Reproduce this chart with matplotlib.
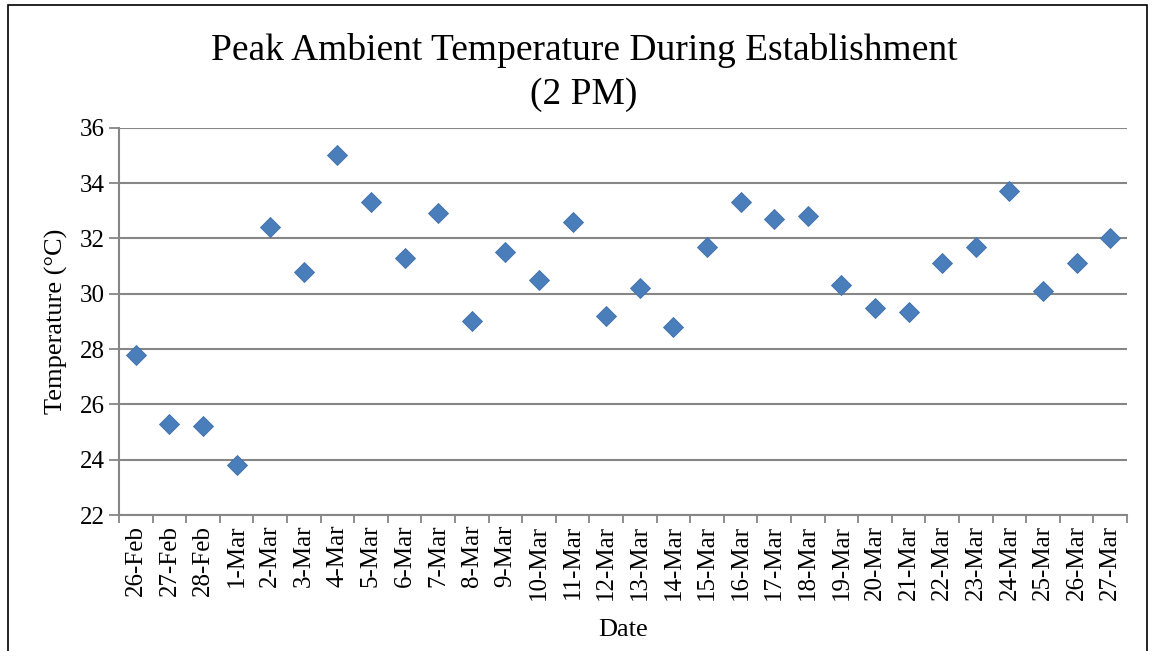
import matplotlib
matplotlib.use("Agg")
import matplotlib.pyplot as plt
from matplotlib.patches import Rectangle

dates = ["26-Feb", "27-Feb", "28-Feb"] + [f"{d}-Mar" for d in range(1, 28)]
temps = [27.8, 25.3, 25.2, 23.8, 32.4, 30.8, 35.0, 33.3, 31.3, 32.9,
         29.0, 31.5, 30.5, 32.6, 29.2, 30.2, 28.8, 31.7, 33.3, 32.7,
         32.8, 30.3, 29.5, 29.35, 31.1, 31.7, 33.7, 30.1, 31.1, 32.0]
yticks = [22, 24, 26, 28, 30, 32, 34, 36]

plt.rcParams['font.family'] = ['Liberation Serif', 'DejaVu Serif']

W, H = 1154, 651
fig = plt.figure(figsize=(W / 100, H / 100), dpi=100)
ax = fig.add_axes([119 / W, 1 - 515 / H, (1127 - 119) / W, (515 - 127.7) / H])

# outer chart border
fig.patches.append(Rectangle((8 / W, -0.05), (1147 - 8) / W, 1.05 - 5 / H,
                             transform=fig.transFigure, fill=False,
                             edgecolor='black', linewidth=1.2))

x = list(range(len(dates)))
ax.plot(x, temps, linestyle='none', marker='D', markersize=10,
        color='#4A7EBB', markeredgecolor='#3F6FA8', markeredgewidth=0.6, zorder=3)

ax.set_xlim(-0.5, len(dates) - 0.5)
ax.set_ylim(22, 36)
ax.set_yticks(yticks)
ax.set_yticklabels([str(v) for v in yticks], fontsize=18)
ax.set_xticks(x)
ax.set_xticklabels(dates, rotation=90, fontsize=18)
ax.set_xticks([i - 0.5 for i in range(len(dates) + 1)], minor=True)
ax.tick_params(axis='x', which='major', length=0, pad=7)
ax.tick_params(axis='x', which='minor', length=6, width=1.3, color='#868686', direction='out')
ax.tick_params(axis='y', length=7, width=1.3, color='#868686', direction='out', pad=3)

ax.grid(axis='y', color='#868686', linewidth=1.5)
ax.set_axisbelow(True)
for s in ['top', 'right']:
    ax.spines[s].set_visible(False)
for s in ['left', 'bottom']:
    ax.spines[s].set_color('#868686')
    ax.spines[s].set_linewidth(1.5)

ax.set_xlabel('Date', fontsize=19, labelpad=14)
ax.set_ylabel('Temperature (°C)', fontsize=19, labelpad=9)

fig.text(584 / W, 1 - 50 / H, 'Peak Ambient Temperature During Establishment',
         ha='center', va='center', fontsize=27)
fig.text(584 / W, 1 - 95 / H, '(2 PM)', ha='center', va='center', fontsize=27)

fig.savefig('out.png', dpi=100)
